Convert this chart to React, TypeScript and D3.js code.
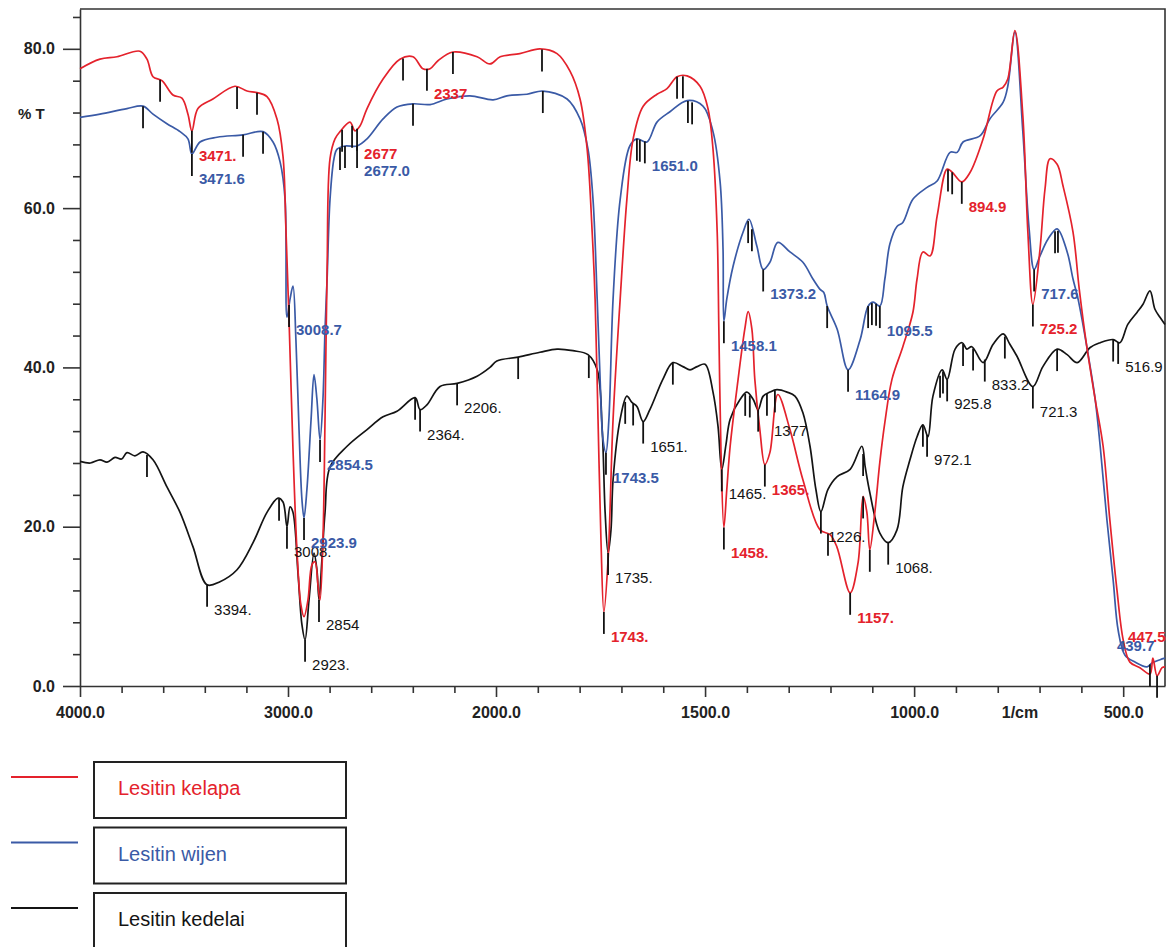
import { useEffect, useRef } from "react";
import * as d3 from "d3";

type Pt = [number, number]; // [wavenumber 1/cm, %T]
type Mark = { w: number; label?: string };

// ---- spectra ----
const KELAPA: Pt[] = [
  [4000, 77.5], [3904, 78.7], [3822, 79.0], [3712, 79.7], [3678, 78.7], [3649, 76.5], [3606, 76.0],
  [3553, 74.2], [3510, 73.8], [3481, 71.8], [3462, 69.7], [3433, 72.5], [3361, 73.7], [3255, 75.3],
  [3197, 74.7], [3149, 74.5], [3101, 74.0], [3053, 71.2], [3024, 66.5], [3010, 57.4], [2995, 46.0],
  [2976, 29.7], [2957, 17.1], [2938, 10.2], [2923, 8.7], [2904, 10.8], [2885, 15.2], [2870, 15.6],
  [2856, 12.7], [2846, 10.8], [2832, 18.4], [2822, 33.5], [2812, 52.3], [2798, 66.2], [2774, 68.7],
  [2750, 69.6], [2702, 70.8], [2678, 69.7], [2654, 70.3], [2620, 72.5], [2543, 76.2], [2462, 78.7],
  [2399, 79.0], [2351, 77.5], [2317, 77.5], [2279, 78.5], [2207, 79.6], [2091, 79.0], [2029, 78.1],
  [1990, 79.0], [1943, 79.4], [1895, 80.0], [1854, 79.4], [1823, 77.2], [1799, 73.7], [1782, 67.4],
  [1770, 57.0], [1763, 48.6], [1756, 33.5], [1749, 18.4], [1742, 9.3], [1732, 15.8], [1720, 33.5],
  [1703, 48.6], [1687, 61.1], [1672, 68.7], [1648, 72.8], [1615, 74.3], [1591, 75.0], [1567, 76.5],
  [1543, 76.6], [1512, 75.3], [1493, 72.5], [1481, 67.4], [1471, 57.0], [1467, 44.8], [1462, 29.7],
  [1455, 19.9], [1448, 24.7], [1440, 30.1], [1421, 38.5], [1405, 44.8], [1397, 47.0], [1388, 44.8],
  [1381, 38.5], [1369, 32.2], [1357, 27.8], [1345, 29.3], [1326, 36.6], [1297, 32.2], [1266, 25.9],
  [1225, 19.6], [1201, 19.0], [1185, 17.5], [1153, 11.7], [1134, 15.5], [1122, 23.8], [1113, 21.8],
  [1106, 17.1], [1094, 21.8], [1082, 28.1], [1070, 33.1], [1053, 38.5], [1027, 42.6], [1003, 46.9],
  [993, 51.1], [979, 54.5], [962, 54.0], [945, 59.0], [921, 64.9], [909, 64.5], [886, 63.3],
  [866, 64.5], [835, 68.7], [802, 74.7], [787, 75.2], [776, 76.2], [759, 82.3], [740, 71.6],
  [728, 57.0], [716, 47.9], [699, 54.8], [687, 62.4], [675, 66.2], [658, 65.5], [644, 62.8],
  [620, 57.0], [605, 49.8], [587, 42.6], [567, 36.0], [548, 30.1], [532, 20.9], [515, 12.1],
  [500, 5.8], [484, 3.0], [460, 2.3], [436, 1.5], [429, 3.5], [419, 1.3], [407, 2.3], [400, 2.4],
];

const WIJEN: Pt[] = [
  [4000, 71.4], [3904, 71.8], [3774, 72.5], [3697, 72.8], [3649, 71.8], [3582, 70.6], [3519, 69.6],
  [3481, 68.7], [3462, 66.8], [3423, 68.3], [3341, 68.9], [3216, 69.2], [3120, 69.6], [3072, 68.3],
  [3038, 65.8], [3014, 61.1], [3005, 46.3], [2990, 48.6], [2976, 50.2], [2962, 43.5], [2947, 32.2],
  [2933, 23.4], [2923, 21.1], [2909, 24.7], [2889, 33.5], [2875, 39.1], [2861, 36.0], [2846, 30.9],
  [2832, 36.0], [2822, 44.8], [2812, 51.1], [2798, 61.1], [2779, 66.2], [2764, 67.4], [2726, 67.8],
  [2668, 67.8], [2620, 68.7], [2543, 71.2], [2476, 72.7], [2399, 73.1], [2317, 73.0], [2236, 73.7],
  [2125, 74.1], [2014, 73.6], [1974, 74.1], [1926, 74.3], [1888, 74.7], [1830, 73.7], [1799, 71.2],
  [1780, 67.4], [1768, 61.1], [1758, 48.6], [1751, 38.5], [1744, 30.9], [1737, 29.3], [1730, 33.5],
  [1720, 48.6], [1703, 61.1], [1680, 67.8], [1663, 68.7], [1639, 68.3], [1615, 70.8], [1584, 72.1],
  [1543, 73.5], [1505, 72.8], [1481, 69.6], [1464, 63.3], [1457, 54.8], [1455, 45.8], [1448, 48.6],
  [1433, 52.7], [1409, 57.0], [1395, 58.6], [1376, 55.2], [1361, 52.3], [1345, 53.2], [1326, 55.7],
  [1297, 54.5], [1266, 53.2], [1242, 51.1], [1225, 49.8], [1216, 49.4], [1208, 47.7], [1184, 44.8],
  [1158, 39.7], [1129, 43.5], [1110, 47.7], [1098, 48.2], [1082, 47.7], [1070, 51.1], [1058, 55.5],
  [1041, 57.7], [1027, 58.2], [1003, 61.1], [969, 62.6], [945, 63.4], [914, 67.0], [897, 67.0],
  [883, 68.3], [842, 69.1], [819, 71.2], [787, 73.3], [776, 75.3], [759, 82.1], [740, 69.6],
  [725, 57.4], [713, 52.3], [699, 54.0], [680, 56.1], [658, 57.4], [634, 54.5], [620, 51.1],
  [608, 48.6], [587, 42.6], [567, 36.0], [555, 30.1], [539, 20.9], [524, 13.3], [512, 7.0],
  [496, 3.9], [472, 3.0], [443, 2.4], [431, 2.9], [412, 3.3], [400, 3.5],
];

const KEDELAI: Pt[] = [
  [4000, 28.2], [3950, 28.0], [3904, 28.4], [3870, 28.1], [3832, 28.7], [3800, 28.5], [3774, 29.3],
  [3736, 28.9], [3697, 29.4], [3649, 28.4], [3582, 25.0], [3519, 21.8], [3457, 17.5], [3389, 12.7],
  [3327, 13.1], [3245, 14.6], [3168, 18.0], [3101, 21.8], [3048, 23.6], [3024, 23.1], [3005, 20.0],
  [2990, 22.5], [2976, 21.8], [2952, 14.2], [2933, 7.7], [2918, 5.8], [2899, 10.8], [2875, 16.7],
  [2861, 14.6], [2851, 10.8], [2837, 15.8], [2822, 21.8], [2798, 27.5], [2716, 30.1], [2620, 32.2],
  [2543, 33.8], [2476, 34.5], [2389, 36.2], [2365, 34.7], [2332, 35.3], [2269, 37.6], [2187, 38.0],
  [2091, 38.9], [2029, 40.0], [1998, 40.8], [1947, 41.3], [1895, 41.9], [1854, 42.3], [1816, 42.1],
  [1780, 41.6], [1758, 39.7], [1746, 32.2], [1739, 21.8], [1732, 16.7], [1725, 19.6], [1720, 25.9],
  [1703, 33.5], [1687, 36.4], [1675, 35.6], [1663, 35.1], [1648, 33.2], [1632, 34.7], [1601, 38.5],
  [1577, 40.6], [1553, 40.1], [1536, 39.7], [1519, 40.1], [1500, 40.4], [1481, 36.9], [1469, 32.6],
  [1460, 27.2], [1450, 30.3], [1440, 33.5], [1416, 36.0], [1400, 36.9], [1385, 36.0], [1373, 34.7],
  [1361, 36.4], [1345, 36.9], [1328, 37.2], [1304, 36.9], [1285, 36.4], [1266, 34.3], [1249, 30.1],
  [1235, 24.7], [1223, 21.9], [1206, 24.7], [1184, 26.3], [1153, 27.2], [1125, 30.1], [1117, 27.5],
  [1106, 24.3], [1082, 19.2], [1062, 18.0], [1041, 19.6], [1027, 25.0], [1010, 28.4], [993, 31.3],
  [979, 32.8], [967, 31.3], [955, 36.4], [933, 39.7], [921, 38.5], [902, 42.3], [885, 43.1],
  [874, 42.3], [862, 42.6], [835, 40.6], [811, 42.9], [787, 44.2], [771, 42.9], [754, 41.4],
  [716, 37.6], [692, 40.1], [658, 42.3], [634, 41.6], [610, 40.6], [579, 42.5], [555, 43.1],
  [524, 43.5], [508, 43.1], [489, 45.4], [467, 46.9], [453, 47.9], [436, 49.6], [424, 47.3],
  [412, 46.3], [400, 45.4],
];

// ---- peak markers (wavenumber, printed label) ----
const KELAPA_MARKS: Mark[] = [
  { w: 3615 }, { w: 3462, label: "3471." }, { w: 3245 }, { w: 3149 }, { w: 2740 }, { w: 2692 },
  { w: 2668, label: "2677" }, { w: 2447 }, { w: 2332, label: "2337" }, { w: 2207 }, { w: 1890 },
  { w: 1567 }, { w: 1553 }, { w: 1742, label: "1743." }, { w: 1455, label: "1458." },
  { w: 1357, label: "1365." }, { w: 1206 }, { w: 1153, label: "1157." }, { w: 1122 }, { w: 1106 },
  { w: 919 }, { w: 909 }, { w: 886, label: "894.9" }, { w: 716, label: "725.2" },
  { w: 419, label: "447.5" },
];

const WIJEN_MARKS: Mark[] = [
  { w: 3697 }, { w: 3462, label: "3471.6" }, { w: 3216 }, { w: 3120 }, { w: 2995, label: "3008.7" },
  { w: 2923, label: "2923.9" }, { w: 2846, label: "2854.5" }, { w: 2750 }, { w: 2726 },
  { w: 2668, label: "2677.0" }, { w: 2399 }, { w: 1888 }, { w: 1737, label: "1743.5" }, { w: 1663 },
  { w: 1656 }, { w: 1644, label: "1651.0" }, { w: 1541 }, { w: 1531 }, { w: 1455, label: "1458.1" },
  { w: 1397 }, { w: 1388 }, { w: 1361, label: "1373.2" }, { w: 1208 }, { w: 1158, label: "1164.9" },
  { w: 1110 }, { w: 1101 }, { w: 1091 }, { w: 1082, label: "1095.5" }, { w: 713, label: "717.6" },
  { w: 663 }, { w: 656 }, { w: 436, label: "439.7" },
];

const KEDELAI_MARKS: Mark[] = [
  { w: 3678 }, { w: 3389, label: "3394." }, { w: 3043 }, { w: 3005, label: "3008." },
  { w: 2918, label: "2923." }, { w: 2851, label: "2854" }, { w: 2389 }, { w: 2365, label: "2364." },
  { w: 2187, label: "2206." }, { w: 1947 }, { w: 1778 }, { w: 1732, label: "1735." }, { w: 1691 },
  { w: 1672 }, { w: 1648, label: "1651." }, { w: 1577 }, { w: 1460, label: "1465." }, { w: 1404 },
  { w: 1393 }, { w: 1373 }, { w: 1352, label: "1377" }, { w: 1333 }, { w: 1223, label: "1226." },
  { w: 1122 }, { w: 1062, label: "1068." }, { w: 979 }, { w: 969, label: "972.1" }, { w: 938 },
  { w: 931 }, { w: 921, label: "925.8" }, { w: 883 }, { w: 859 }, { w: 831, label: "833.2" },
  { w: 783 }, { w: 716, label: "721.3" }, { w: 658 }, { w: 524 }, { w: 512, label: "516.9" },
];

const X_MAJOR = [4000, 3000, 2000, 1500, 1000, 500];
const Y_MAJOR = [0, 20, 40, 60, 80];
const LEGEND = ["Lesitin kelapa", "Lesitin wijen", "Lesitin kedelai"];

// labels the instrument printed away from their marker
const LABEL_NUDGE: Record<string, [number, number]> = {
  "447.5": [-36, -64],
  "439.7": [-40, -44],
  "1377": [0, 12],
};

const SERIES = [
  { data: KEDELAI, marks: KEDELAI_MARKS, color: "#141414", bold: false },
  { data: WIJEN, marks: WIJEN_MARKS, color: "#3a5aa6", bold: true },
  { data: KELAPA, marks: KELAPA_MARKS, color: "#e4222c", bold: true },
];
const LEGEND_COLORS = ["#e4222c", "#3a5aa6", "#141414"];

function valueAt(data: Pt[], w: number) {
  for (let i = 0; i < data.length - 1; i++) {
    const [w0, v0] = data[i];
    const [w1, v1] = data[i + 1];
    if (w0 >= w && w1 <= w) {
      const t = (w0 - w) / (w0 - w1 || 1);
      return v0 + t * (v1 - v0);
    }
  }
  return data[data.length - 1][1];
}

export default function App() {
  const svgRef = useRef<SVGSVGElement>(null);

  useEffect(() => {
    const svg = d3.select(svgRef.current);
    svg.selectAll("*").remove();
    const font = "'Liberation Sans', Arial, sans-serif";

    // FTIR axis: 4000-2000 compressed, 2000-400 expanded 2x
    const x = d3.scaleLinear().domain([4000, 2000, 400]).range([80, 496, 1165]);
    const y = d3.scaleLinear().domain([0, 85]).range([686, 9]);

    // frame
    svg.append("path")
      .attr("d", "M80,9H1165V686")
      .attr("fill", "none").attr("stroke", "#333").attr("stroke-width", 1.6);

    // ----- x axis -----
    const xMinor = [...d3.range(3800, 2000, -200), ...d3.range(1900, 400, -100)]
      .filter((d) => !X_MAJOR.includes(d));
    svg.append("g")
      .attr("transform", "translate(0,686)")
      .call(d3.axisBottom(x).tickValues(xMinor).tickSize(7).tickFormat(() => ""))
      .call((g) => g.select(".domain").remove());
    const xAxis = svg.append("g")
      .attr("transform", "translate(0,686)")
      .call(d3.axisBottom(x).tickValues(X_MAJOR).tickSize(11).tickSizeOuter(0)
        .tickPadding(10).tickFormat(d3.format(".1f")));
    svg.append("text")
      .attr("x", 1020).attr("y", 718).attr("text-anchor", "middle")
      .attr("font-family", font).attr("font-size", 16).attr("font-weight", "bold")
      .attr("fill", "#222").text("1/cm");

    // ----- y axis -----
    const yMinor = d3.range(4, 85, 4).filter((d) => d % 20 !== 0);
    svg.append("g")
      .attr("transform", "translate(80,0)")
      .call(d3.axisLeft(y).tickValues(yMinor).tickSize(7).tickFormat(() => ""))
      .call((g) => g.select(".domain").remove());
    const yAxis = svg.append("g")
      .attr("transform", "translate(80,0)")
      .call(d3.axisLeft(y).tickValues(Y_MAJOR).tickSize(17).tickSizeOuter(0)
        .tickPadding(8).tickFormat(d3.format(".1f")));
    svg.append("text")
      .attr("x", 18).attr("y", 119)
      .attr("font-family", font).attr("font-size", 15).attr("font-weight", "bold")
      .attr("fill", "#222").text("% T");

    [xAxis, yAxis].forEach((g) => {
      g.selectAll("text")
        .attr("font-family", font).attr("font-size", 16)
        .attr("font-weight", "bold").attr("fill", "#222");
    });
    svg.selectAll(".domain, .tick line").attr("stroke", "#333").attr("stroke-width", 1.6);

    // ----- spectra -----
    const line = d3.line<Pt>()
      .x((d) => x(d[0]))
      .y((d) => y(d[1]))
      .curve(d3.curveCatmullRom.alpha(0.5));

    SERIES.forEach((s) => {
      svg.append("path")
        .attr("d", line(s.data))
        .attr("fill", "none")
        .attr("stroke", s.color)
        .attr("stroke-width", 1.7)
        .attr("stroke-linejoin", "round");
    });

    // ----- peak markers and labels -----
    const TICK = 22;
    SERIES.forEach((s) => {
      s.marks.forEach((m) => {
        const px = x(m.w);
        const py = y(valueAt(s.data, m.w));
        svg.append("line")
          .attr("x1", px).attr("x2", px)
          .attr("y1", py).attr("y2", py + TICK)
          .attr("stroke", "#111").attr("stroke-width", 1.8);
      });
    });
    SERIES.forEach((s) => {
      s.marks.filter((m) => m.label).forEach((m) => {
        const px = x(m.w);
        const py = y(valueAt(s.data, m.w));
        const [dx, dy] = LABEL_NUDGE[m.label as string] || [0, 0];
        svg.append("text")
          .attr("x", px + 7 + dx).attr("y", py + TICK + 8 + dy)
          .attr("font-family", font)
          .attr("font-size", 15)
          .attr("font-weight", s.bold ? "bold" : "normal")
          .attr("fill", s.color)
          .text(m.label as string);
      });
    });

    // ----- legend -----
    LEGEND.forEach((name, i) => {
      const top = 762 + i * 65.5;
      svg.append("line")
        .attr("x1", 11).attr("x2", 78).attr("y1", top + 15).attr("y2", top + 15)
        .attr("stroke", LEGEND_COLORS[i]).attr("stroke-width", 2);
      svg.append("rect")
        .attr("x", 94).attr("y", top).attr("width", 252).attr("height", i === 2 ? 70 : 56)
        .attr("fill", "none").attr("stroke", "#222").attr("stroke-width", 2);
      svg.append("text")
        .attr("x", 118).attr("y", top + 33)
        .attr("font-family", font).attr("font-size", 20)
        .attr("fill", LEGEND_COLORS[i]).text(name);
    });
  }, []);

  return (
    <svg
      ref={svgRef}
      width={1169}
      height={947}
      style={{ position: "absolute", left: 0, top: 0, background: "#fff" }}
    />
  );
}
